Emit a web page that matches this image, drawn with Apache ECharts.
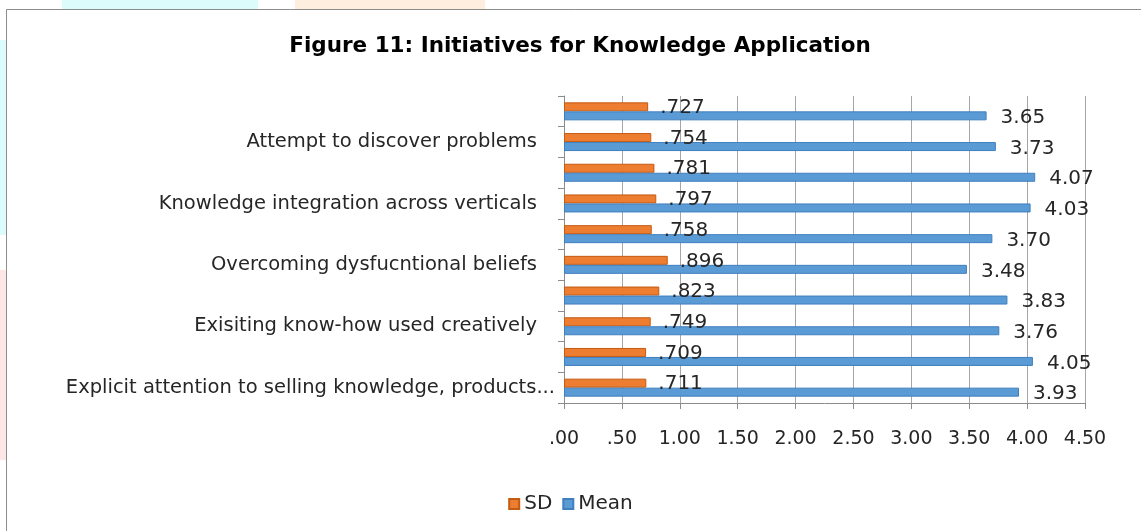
<!DOCTYPE html>
<html><head><meta charset="utf-8">
<script src="https://cdn.jsdelivr.net/npm/echarts@6/dist/echarts.min.js"></script>
<style>html,body{margin:0;padding:0;background:#fff}#c{width:1141px;height:531px}</style>
</head><body><div id="c"></div>
<script>
const categories = [
  "Explicit attention to selling knowledge, products...",
  "Item 9",
  "Exisiting know-how used creatively",
  "Item 7",
  "Overcoming dysfucntional beliefs",
  "Item 5",
  "Knowledge integration across verticals",
  "Item 3",
  "Attempt to discover problems",
  "Item 1"
];
const sdValues = [0.711, 0.709, 0.749, 0.823, 0.896, 0.758, 0.797, 0.781, 0.754, 0.727];
const meanValues = [3.93, 4.05, 3.76, 3.83, 3.48, 3.70, 4.03, 4.07, 3.73, 3.65];

const FONT = 'DejaVu Sans';
const fmtAxis = v => v.toFixed(2).replace(/^0/, '');
const chart = echarts.init(document.getElementById('c'));
chart.setOption({
  animation: false,
  backgroundColor: '#fff',
  textStyle: { fontFamily: FONT },
  graphic: [
    { type: 'rect', shape: { x: 62, y: 0, width: 196, height: 9 }, style: { fill: '#dcfbfb' }, z: -2, silent: true },
    { type: 'rect', shape: { x: 295, y: 0, width: 190, height: 9 }, style: { fill: '#fdeee0' }, z: -2, silent: true },
    { type: 'rect', shape: { x: 0, y: 40, width: 6, height: 195 }, style: { fill: '#dcfbfb' }, z: -2, silent: true },
    { type: 'rect', shape: { x: 0, y: 270, width: 6, height: 190 }, style: { fill: '#fde6e6' }, z: -2, silent: true },
    { type: 'rect', shape: { x: 6.5, y: 9.5, width: 1150, height: 540 }, style: { fill: 'none', stroke: '#8c8c8c', lineWidth: 1 }, z: -1, silent: true }
  ],
  title: {
    text: 'Figure 11: Initiatives for Knowledge Application',
    left: 575, textAlign: 'center', top: 30,
    textStyle: { fontFamily: FONT, fontSize: 21.5, fontWeight: 'bold', color: '#000' }
  },
  legend: {
    data: ['SD', 'Mean'],
    top: 489, left: 'center',
    itemWidth: 10, itemHeight: 10, itemGap: 10,
    icon: 'rect',
    textStyle: { fontFamily: FONT, fontSize: 20, color: '#262626' }
  },
  grid: { left: 564, right: 56, top: 96, bottom: 128 },
  xAxis: {
    type: 'value', min: 0, max: 4.5, interval: 0.5,
    axisLine: { show: true, lineStyle: { color: '#8c8c8c' } },
    axisTick: { show: true, length: 6, lineStyle: { color: '#8c8c8c' } },
    splitLine: { show: true, lineStyle: { color: '#a6a6a6', width: 1 } },
    axisLabel: { formatter: fmtAxis, fontSize: 19, color: '#262626', margin: 27, fontFamily: FONT }
  },
  yAxis: {
    type: 'category', data: categories,
    axisLine: { show: true, lineStyle: { color: '#8c8c8c' } },
    axisTick: { show: true, interval: 0, length: 6, lineStyle: { color: '#8c8c8c' } },
    axisLabel: {
      interval: 1, margin: 9,
      formatter: (v, i) => i === 0 ? '{b|' + v + '}' : '{a|' + v + '}',
      rich: {
        a: { fontSize: 19.5, color: '#262626', fontFamily: FONT, padding: [0, 18, 0, 0] },
        b: { fontSize: 19.5, color: '#262626', fontFamily: FONT, padding: [0, 0, 0, 0] }
      }
    }
  },
  series: [
    {
      name: 'SD', type: 'bar', data: sdValues, barWidth: 9, barGap: '0%',
      itemStyle: { color: '#ed7d31', borderColor: '#c55a11', borderWidth: 1 },
      label: { show: true, position: 'right', distance: 12, offset: [0, 1], formatter: p => p.value.toFixed(3).replace(/^0/, ''), fontSize: 20, color: '#262626', fontFamily: FONT }
    },
    {
      name: 'Mean', type: 'bar', data: meanValues, barWidth: 9, barGap: '0%',
      itemStyle: { color: '#5b9bd5', borderColor: '#3f7fbf', borderWidth: 1 },
      label: { show: true, position: 'right', distance: 14, offset: [0, 2], formatter: p => p.value.toFixed(2), fontSize: 20, color: '#262626', fontFamily: FONT }
    }
  ]
});
</script></body></html>
